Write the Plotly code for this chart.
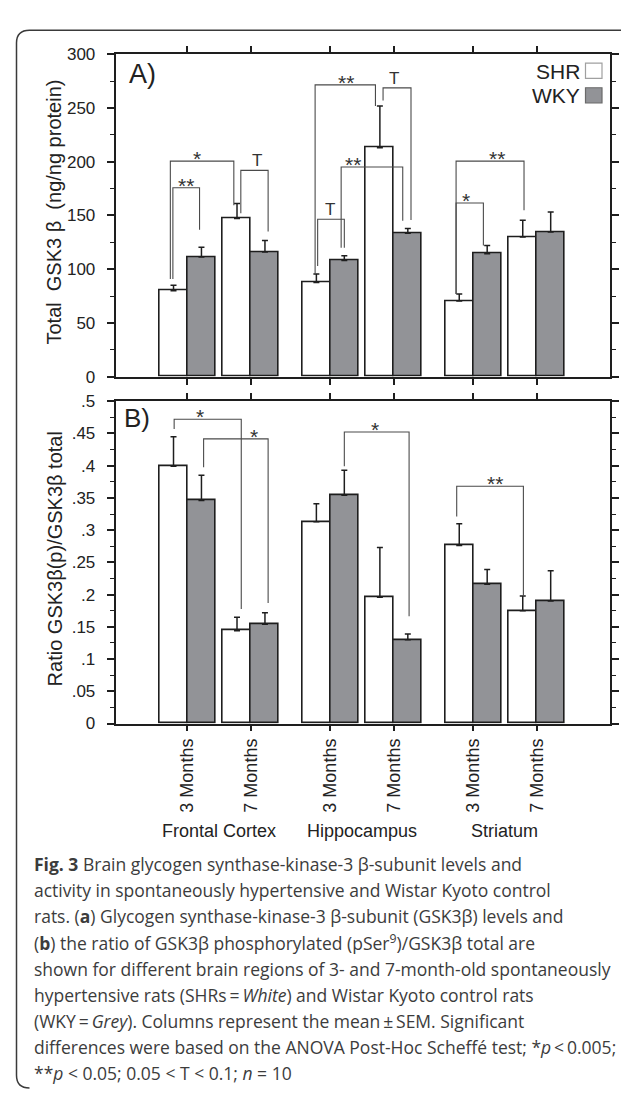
import plotly.graph_objects as go

# ---------------- data ----------------
regions = ["Frontal Cortex", "Hippocampus", "Striatum"]
ages = ["3 Months", "7 Months"]

shr_total = [80.0, 147.1, 87.6, 213.0, 70.5, 130.0]
shr_total_sem = [5.0, 14.0, 8.0, 39.0, 6.4, 15.6]
wky_total = [111.4, 116.0, 108.0, 133.4, 114.4, 134.6]
wky_total_sem = [9.0, 10.7, 4.6, 4.6, 7.6, 18.6]

shr_ratio = [0.399, 0.144, 0.313, 0.196, 0.276, 0.175]
shr_ratio_sem = [0.046, 0.021, 0.028, 0.077, 0.034, 0.023]
wky_ratio = [0.346, 0.154, 0.354, 0.130, 0.216, 0.190]
wky_ratio_sem = [0.039, 0.018, 0.039, 0.009, 0.023, 0.047]

ratio_ticks = [0, 0.05, 0.1, 0.15, 0.2, 0.25, 0.3, 0.35, 0.4, 0.45, 0.5]
ratio_ticktext = ["0", ".05", ".1", ".15", ".2", ".25", ".3", ".35", ".4", ".45", ".5"]
total_ticks = [0, 50, 100, 150, 200, 250, 300]

# significance brackets: (x_left, x_right, y_top, y_left_end, y_right_end, label, label_x)
brackets_A = [
    (-0.23, 0.19, 175.8, 91, 136.7, "**", -0.03),
    (-0.27, 0.73, 200.6, 91, 159.6, "*", 0.155),
    (0.84, 1.27, 192.0, 152, 135.2, "T", 1.09),
    (2.05, 2.47, 146.5, 103, 120, "T", 2.25),
    (2.01, 2.96, 271.6, 95.5, 252, "**", 2.50),
    (3.08, 3.52, 268.8, 257, 145.8, "T", 3.25),
    (2.42, 3.39, 195.1, 120, 145.0, "**", 2.61),
    (4.23, 4.66, 161.6, 77, 122, "*", 4.39),
    (4.23, 5.30, 200.6, 77, 154.9, "**", 4.88),
]
brackets_B = [
    (-0.21, 0.847, 0.472, 0.457, 0.1777, "*", 0.19),
    (0.254, 1.27, 0.4416, 0.3975, 0.1868, "*", 1.045),
    (2.47, 3.49, 0.4523, 0.399, 0.1665, "*", 2.96),
    (4.24, 5.29, 0.368, 0.3213, 0.197, "**", 4.84),
]

TS = "\u2009"  # thin space used in the caption around relations
caption_lines = [
    "<b>Fig. 3</b> Brain glycogen synthase-kinase-3 β-subunit levels and",
    "activity in spontaneously hypertensive and Wistar Kyoto control",
    "rats. (<b>a</b>) Glycogen synthase-kinase-3 β-subunit (GSK3β) levels and",
    "(<b>b</b>) the ratio of GSK3β phosphorylated (pSer<sup>9</sup>)/GSK3β total are",
    "shown for different brain regions of 3- and 7-month-old spontaneously",
    f"hypertensive rats (SHRs{TS}={TS}<i>White</i>) and Wistar Kyoto control rats",
    f"(WKY{TS}={TS}<i>Grey</i>). Columns represent the mean{TS}±{TS}SEM. Significant",
    f"differences were based on the ANOVA Post-Hoc Scheffé test; *<i>p</i>{TS}&lt;{TS}0.005;",
    "**<i>p</i> &lt; 0.05; 0.05 &lt; T &lt; 0.1; <i>n</i> = 10",
]

# ---------------- layout helpers ----------------
W, H = 629, 1094
GROUP_STEP = 2.25
BAR_W = 0.44
xpos = [g * GROUP_STEP + a for g in range(len(regions)) for a in range(len(ages))]
xticktext = [ages[a] for g in range(len(regions)) for a in range(len(ages))]
XRANGE = [-1.132, 6.654]

def px_x(p):
    return p / W

def px_y(p):
    return 1 - p / H

FONT = "Liberation Sans, Arial, Helvetica, sans-serif"
CAPFONT = "Open Sans, Lato, sans-serif"
GREY = "#929397"
EDGE = "#1e1e1e"

fig = go.Figure()

def add_bars(xa, ya, shr, shr_e, wky, wky_e):
    for name, vals, errs, fill, off in [("SHR", shr, shr_e, "white", -BAR_W),
                                        ("WKY", wky, wky_e, GREY, 0.0)]:
        fig.add_trace(go.Bar(
            x=xpos, y=vals, name=name, width=BAR_W, offset=off,
            marker=dict(color=fill, line=dict(color=EDGE, width=1.6)),
            error_y=dict(type="data", symmetric=False, array=errs,
                         arrayminus=[0] * len(errs), color=EDGE,
                         thickness=1.5, width=3),
            xaxis=xa, yaxis=ya, showlegend=False,
        ))

add_bars("x", "y", shr_total, shr_total_sem, wky_total, wky_total_sem)
add_bars("x2", "y2", shr_ratio, shr_ratio_sem, wky_ratio, wky_ratio_sem)

shapes = []
annotations = []

def add_brackets(brs, xref, yref):
    for xl, xr, yt, yl, yr, lab, lx in brs:
        shapes.append(dict(type="path", xref=xref, yref=yref,
                           path=f"M {xl},{yl} L {xl},{yt} L {xr},{yt} L {xr},{yr}",
                           line=dict(color="#4a4a4a", width=1.1)))
        if lab == "T":
            annotations.append(dict(text="T", x=lx, y=yt, xref=xref, yref=yref,
                                    showarrow=False, yanchor="bottom", yshift=-2,
                                    font=dict(family=FONT, size=17, color="#333")))
        else:
            annotations.append(dict(text=lab, x=lx, y=yt, xref=xref, yref=yref,
                                    showarrow=False, yanchor="bottom", yshift=-11,
                                    font=dict(family=FONT, size=21, color="#333")))

add_brackets(brackets_A, "x", "y")
add_brackets(brackets_B, "x2", "y2")

# frame
fx0, fx1, fy0, fy1, r = px_x(8.5), px_x(625.5), px_y(13.5), px_y(1090), 13
shapes.append(dict(type="path", xref="paper", yref="paper",
                   path=(f"M {px_x(8.5 + r)},{fy1} Q {fx0},{fy1} {fx0},{px_y(1090 - r)} "
                         f"L {fx0},{px_y(13.5 + r)} Q {fx0},{fy0} {px_x(8.5 + r)},{fy0} "
                         f"L {px_x(625.5 - r)},{fy0} Q {fx1},{fy0} {fx1},{px_y(13.5 + r)} "
                         f"L {fx1},{px_y(420)}"),
                   line=dict(color="#3a3a3a", width=1.5)))

# legend boxes
shapes.append(dict(type="rect", xref="paper", yref="paper",
                   x0=px_x(577.5), x1=px_x(594), y0=px_y(62.5), y1=px_y(47),
                   fillcolor="white", line=dict(color="#a0a0a0", width=1.2)))
shapes.append(dict(type="rect", xref="paper", yref="paper",
                   x0=px_x(577.5), x1=px_x(594), y0=px_y(87.5), y1=px_y(72),
                   fillcolor=GREY, line=dict(color="#6a6a6a", width=1.2)))
for lab, yc in [("SHR", 55), ("WKY", 80)]:
    annotations.append(dict(text=lab, x=px_x(574), y=px_y(yc), xref="paper", yref="paper",
                            xanchor="right", yanchor="middle", showarrow=False,
                            font=dict(family=FONT, size=21, color="#222")))

# panel letters
annotations.append(dict(text="A)", x=px_x(119), y=px_y(57.5), xref="paper", yref="paper",
                        xanchor="left", yanchor="middle", showarrow=False,
                        font=dict(family=FONT, size=27, color="#222")))
annotations.append(dict(text="B)", x=px_x(114), y=px_y(408), xref="paper", yref="paper",
                        xanchor="left", yanchor="middle", showarrow=False,
                        font=dict(family=FONT, size=26, color="#222")))

# axis titles
annotations.append(dict(text="Total  GSK3 β  (ng/ng protein)", x=px_x(46), y=px_y(199),
                        xref="paper", yref="paper", textangle=-90, showarrow=False,
                        xanchor="center", yanchor="middle",
                        font=dict(family=FONT, size=20, color="#222")))
annotations.append(dict(text="Ratio GSK3β(p)/GSK3β total", x=px_x(47), y=px_y(552),
                        xref="paper", yref="paper", textangle=-90, showarrow=False,
                        xanchor="center", yanchor="middle",
                        font=dict(family=FONT, size=20, color="#222")))

# region labels
for g, reg in enumerate(regions):
    annotations.append(dict(text=reg, x=g * GROUP_STEP + 0.5, y=px_y(828),
                            xref="x2", yref="paper", showarrow=False,
                            xanchor="center", yanchor="middle",
                            font=dict(family=FONT, size=18, color="#222")))

# caption
for i, line in enumerate(caption_lines):
    annotations.append(dict(text=line, x=px_x(24), y=px_y(862 + 26.6 * i),
                            xref="paper", yref="paper", showarrow=False,
                            xanchor="left", yanchor="middle",
                            font=dict(family=CAPFONT, size=17.5, color="#3c3c3c")))

xdom = [px_x(107.6), px_x(602)]
common_x = dict(range=XRANGE, domain=xdom, showline=True, linecolor=EDGE, linewidth=1.8,
                mirror="ticks", ticks="outside", ticklen=6, tickwidth=1.5, tickcolor=EDGE,
                tickvals=xpos, showgrid=False, zeroline=False)
common_y = dict(showline=True, linecolor=EDGE, linewidth=1.8, mirror="ticks",
                ticks="outside", ticklen=7, tickwidth=1.5, tickcolor=EDGE,
                showgrid=False, zeroline=False, ticklabelstandoff=8,
                tickfont=dict(family=FONT, size=17, color="#222"))

fig.update_layout(
    width=W, height=H, margin=dict(l=0, r=0, t=0, b=0),
    paper_bgcolor="white", plot_bgcolor="white",
    barmode="overlay", bargap=0,
    xaxis=dict(**common_x, anchor="y", showticklabels=False),
    xaxis2=dict(**common_x, anchor="y2", ticktext=xticktext, tickangle=-90,
                tickfont=dict(family=FONT, size=18, color="#222")),
    yaxis=dict(**common_y, domain=[px_y(366), px_y(38)], range=[0, 300],
               tickvals=total_ticks, anchor="x",
               minor=dict(tickmode="linear", tick0=0, dtick=25, ticks="outside",
                          ticklen=4, tickcolor=EDGE, tickwidth=1.2, showgrid=False)),
    yaxis2=dict(**common_y, domain=[px_y(719), px_y(391)], range=[0, 0.5],
                tickvals=ratio_ticks, ticktext=ratio_ticktext, anchor="x2",
                minor=dict(tickmode="linear", tick0=0, dtick=0.025, ticks="outside",
                           ticklen=4, tickcolor=EDGE, tickwidth=1.2, showgrid=False)),
    shapes=shapes, annotations=annotations, showlegend=False,
)

fig.write_html("out.html")
